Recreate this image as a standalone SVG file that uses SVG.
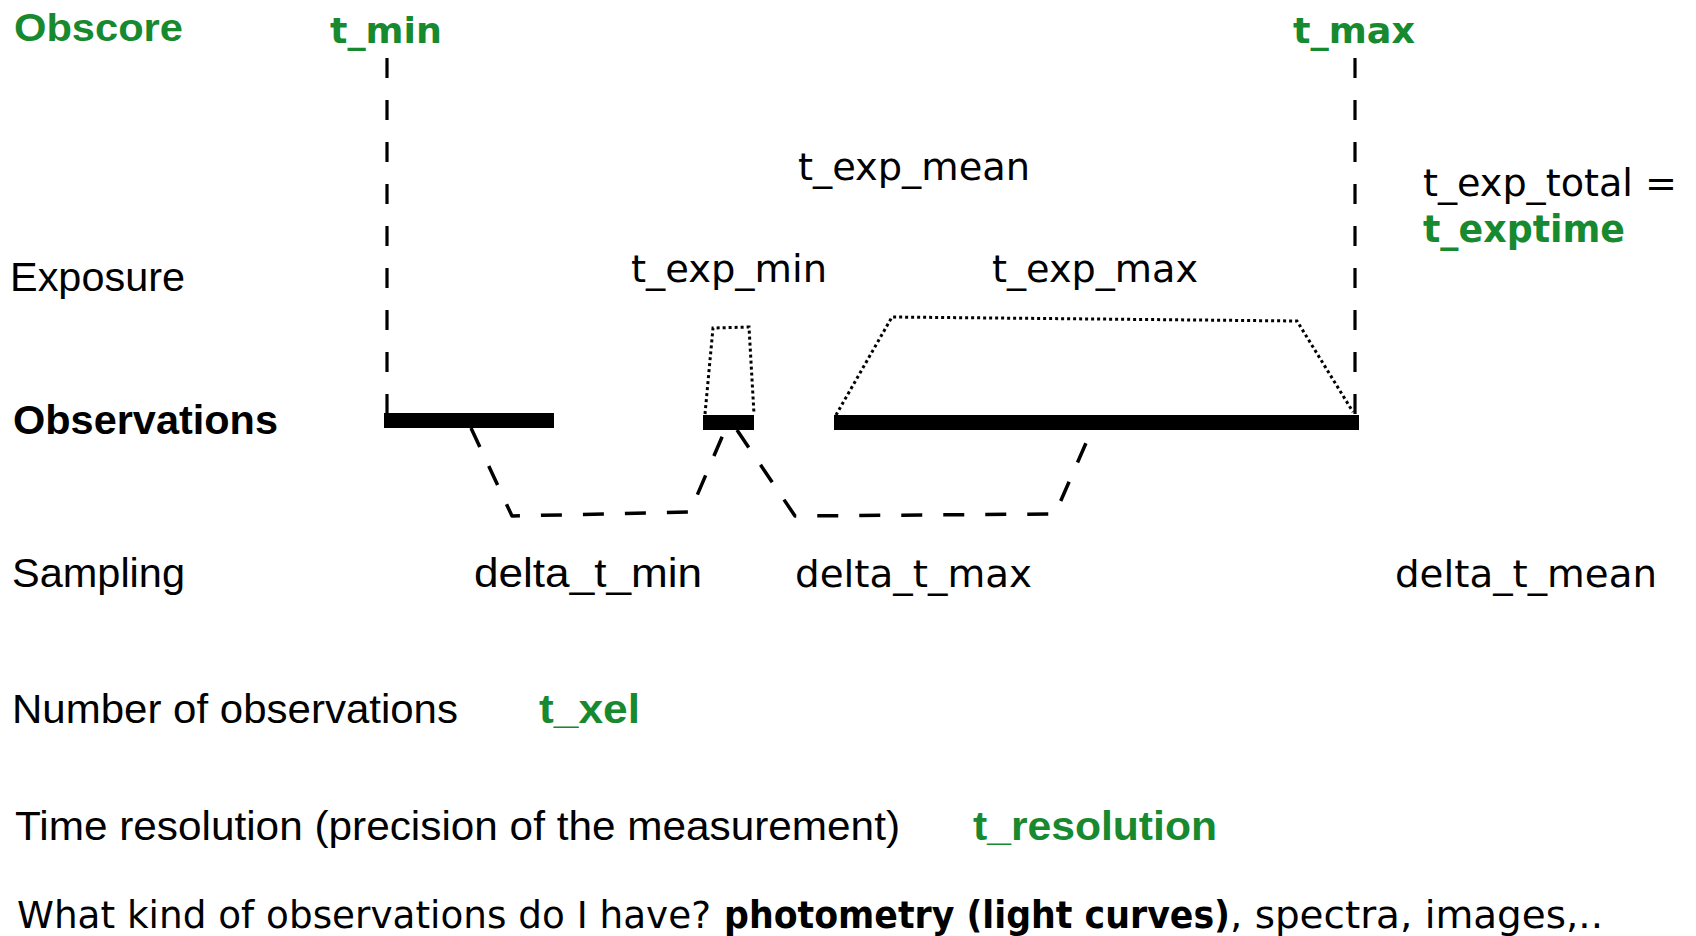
<svg xmlns="http://www.w3.org/2000/svg" width="1696" height="936" viewBox="0 0 1696 936">
  <style>
    .sans { font-family: "Liberation Sans", Arial, sans-serif; fill: #000; }
    .hum { font-family: "DejaVu Sans", Verdana, sans-serif; fill: #000; }
    .b { font-weight: bold; }
    .green { fill: #17892f; }
    .guide { fill: none; stroke: #000; stroke-width: 3.2; stroke-dasharray: 20 22; }
    .gap { fill: none; stroke: #000; stroke-width: 3.5; stroke-dasharray: 21 21; stroke-linejoin: round; }
    .expo { fill: none; stroke: #000; stroke-width: 3; stroke-dasharray: 3 3; }
    .bar { fill: #000; }
  </style>
  <rect width="1696" height="936" fill="#fff"/>

  <!-- row labels -->
  <g id="row-obscore"><text class="sans b green" x="14" y="41" font-size="39" textLength="169" lengthAdjust="spacingAndGlyphs">Obscore</text></g>
  <g id="row-exposure"><text class="sans" x="10" y="291" font-size="40" textLength="175" lengthAdjust="spacingAndGlyphs">Exposure</text></g>
  <g id="row-observations"><text class="sans b" x="13" y="434" font-size="40" textLength="265" lengthAdjust="spacingAndGlyphs">Observations</text></g>
  <g id="row-sampling"><text class="sans" x="12" y="587" font-size="40" textLength="173" lengthAdjust="spacingAndGlyphs">Sampling</text></g>

  <!-- time bounds -->
  <g id="t-min"><text class="hum b green" x="330" y="43" font-size="36" textLength="112" lengthAdjust="spacingAndGlyphs">t_min</text></g>
  <g id="t-max"><text class="hum b green" x="1293" y="43" font-size="36" textLength="122" lengthAdjust="spacingAndGlyphs">t_max</text></g>

  <!-- exposure labels -->
  <g id="t-exp-mean"><text class="hum" x="798" y="180" font-size="37" textLength="232" lengthAdjust="spacingAndGlyphs">t_exp_mean</text></g>
  <g id="t-exp-min"><text class="hum" x="631" y="282" font-size="37" textLength="196" lengthAdjust="spacingAndGlyphs">t_exp_min</text></g>
  <g id="t-exp-max"><text class="hum" x="992" y="282" font-size="37" textLength="206" lengthAdjust="spacingAndGlyphs">t_exp_max</text></g>
  <g id="t-exp-total">
    <text class="hum" x="1423" y="196" font-size="37" textLength="254" lengthAdjust="spacingAndGlyphs">t_exp_total =</text>
    <text class="hum b green" x="1423" y="242" font-size="37" textLength="202" lengthAdjust="spacingAndGlyphs">t_exptime</text>
  </g>

  <!-- sampling labels -->
  <g id="delta-t-min"><text class="sans" x="474" y="587" font-size="40" textLength="228" lengthAdjust="spacingAndGlyphs">delta_t_min</text></g>
  <g id="delta-t-max"><text class="hum" x="795" y="587" font-size="38" textLength="237" lengthAdjust="spacingAndGlyphs">delta_t_max</text></g>
  <g id="delta-t-mean"><text class="hum" x="1395" y="587" font-size="38" textLength="262" lengthAdjust="spacingAndGlyphs">delta_t_mean</text></g>

  <!-- observation bars -->
  <g id="obs-1"><rect class="bar" x="384" y="413" width="170" height="15"/></g>
  <g id="obs-2"><rect class="bar" x="703" y="415" width="51" height="15"/></g>
  <g id="obs-3"><rect class="bar" x="834" y="415" width="525" height="15"/></g>

  <!-- connectors: bounds, exposure spans, sampling gaps -->
  <g id="connectors">
    <line class="guide" x1="387" y1="58" x2="387" y2="413"/>
    <line class="guide" x1="1355" y1="58" x2="1355" y2="414"/>
    <polyline class="expo" points="705,414 713,328 749,327 754,414"/>
    <polyline class="expo" points="836,415 892,317 1297,321 1353,412"/>
    <polyline class="gap" points="471,428 512,516 690,512 725,430"/>
    <polyline class="gap" points="737,430 795,516 1055,514 1086,443"/>
  </g>

  <!-- summary lines -->
  <g id="n-obs">
    <text class="sans" x="12" y="723" font-size="40" textLength="446" lengthAdjust="spacingAndGlyphs">Number of observations</text>
    <text class="sans b green" x="539" y="723" font-size="40" textLength="101" lengthAdjust="spacingAndGlyphs">t_xel</text>
  </g>
  <g id="t-res">
    <text class="sans" x="15" y="840" font-size="40" textLength="885" lengthAdjust="spacingAndGlyphs">Time resolution (precision of the measurement)</text>
    <text class="sans b green" x="973" y="840" font-size="40" textLength="244" lengthAdjust="spacingAndGlyphs">t_resolution</text>
  </g>
  <g id="kind">
    <text class="hum" x="17" y="928" font-size="37" textLength="694" lengthAdjust="spacingAndGlyphs">What kind of observations do I have?</text>
    <text class="hum b" x="724" y="928" font-size="37" textLength="506" lengthAdjust="spacingAndGlyphs">photometry (light curves)</text>
    <text class="hum" x="1230" y="928" font-size="37" textLength="373" lengthAdjust="spacingAndGlyphs">, spectra, images,..</text>
  </g>
</svg>
